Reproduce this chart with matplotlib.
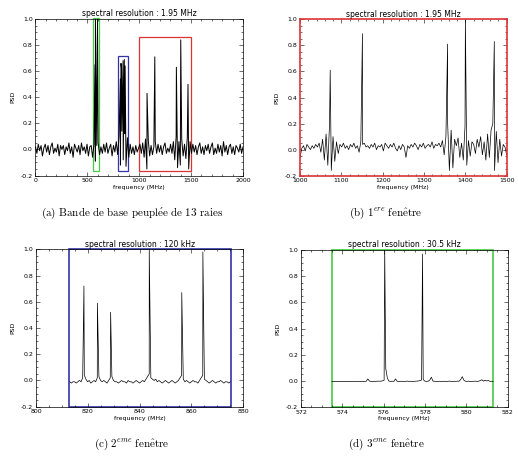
import numpy as np
import matplotlib
matplotlib.use("Agg")
import matplotlib.pyplot as plt
from matplotlib.patches import Rectangle
from matplotlib.ticker import MultipleLocator

plt.rcParams['mathtext.fontset'] = 'cm'

# (a) bande de base, 0-2000 MHz : bruit (centièmes) + raies
bruit_a = [2, -3, 4, -1, 3, -5, 1, 4, -2, 3,
           -4, 2, 5, -3, 1, -2, 4, -5, 3, 0,
           3, -4, 2, -1, 5, -3, 2, -6, 4, 1,
           -2, 3, -4, 5, -1, 2, -3, 4, -5, 2,
           3, -6, 4, -9, 3, 5, -4, 2, -3, 4,
           -2, 5, -3, 1, 4, -5, 3, -2, 6, -4,
           10, -12, 14, -8, 12, -13, 9, -6, 4, -3,
           2, -4, 3, -2, 1, 4, -3, 5, -6, 8,
           -15, 7, -5, 3, -4, 2, 6, -3, 4, -2,
           3, -4, 2, 5, -3, 1, -2, 4, -3, 6,
           -8, 10, -14, 6, -12, 8, -5, 4, -7, 9,
           -15, 6, -3, 4, -2, 3, -4, 2, 5, -3,
           2, -4, 3, -1, 4, -3, 2, 5, -4, 1,
           -3, 4, -2, 3, -5, 6, -2, 3, -4, 2,
           4, -3, 2, -4, 3, 1, -2, 4, -3, 2]
raies_a_f = [574, 578, 598, 818, 824, 829, 844, 856, 864, 1075, 1150, 1358, 1400, 1470]
raies_a_h = [0.65, 1.0, 1.0, 0.54, 0.66, 0.62, 0.68, 0.69, 0.64, 0.43, 0.71, 0.63, 0.84, 0.50]

# (b) 1ere fenetre, 1000-1500 MHz
bruit_b = [-6, 1, 3, -1, 4, 2, 0, 3, 1, 4,
           2, 5, -2, 8, -8, 12, -12, 20, -16, 10,
           -9, 6, -3, 4, 2, 5, 1, 3, 0, 4,
           2, 5, 1, 3, -2, 6, 4, 5, 2, 3,
           1, 4, 2, 5, 0, 3, 2, 4, -1, 5,
           3, 1, 4, 2, 5, 1, -1, 3, 0, 4,
           2, -6, 3, 1, 4, 2, 5, 3, 0, 4,
           2, 5, 1, 3, 4, 2, 6, 1, 4, 3,
           5, 2, 7, -4, 10, 20, -16, 15, -14, 8,
           3, 9, -6, 5, -8, 18, -12, 7, -5, 6,
           4, -3, 8, 2, 10, -4, 6, -8, 12, -6,
           15, 20, -16, 14, -10, 8, -5, 4, 2, -4]
raies_b_f = [1073, 1151, 1357, 1400, 1470]
raies_b_h = [0.61, 0.89, 0.81, 1.0, 0.83]

# (c) 2eme fenetre, 813-875 MHz
bruit_c = [-1, -2, -1, -1, -2, -1, 0, -1, 2, 4,
           1, -1, 0, -2, -1, 0, -1, 2, 3, 0,
           -1, 0, -1, -2, 0, 2, 3, 0, -1, -1,
           -2, -1, 0, -1, -1, -2, 0, -1, -1, -2,
           -1, 0, -1, -2, -1, 0, -1, 1, 3, 5,
           2, 1, 0, 1, -1, 0, -1, -2, -1, 0,
           -1, -2, -1, 0, -1, -2, -1, 0, 2, 4,
           1, -1, 0, -1, -2, -1, 0, -1, -1, -2,
           0, 2, 4, 1, 0, -1, -2, -1, 0, -1,
           -2, -1, -1, 0, -1, -2, -1, -1, -2, -1]
raies_c_f = [818.5, 823.7, 828.8, 843.7, 856.25, 864.4]
raies_c_h = [0.72, 0.59, 0.52, 1.0, 0.67, 0.98]

# (d) 3eme fenetre, 573.5-581.3 MHz (millièmes)
bruit_d = [-6, -5, -6, -4, -5, -6, -5, -4, -5, -6,
           -5, -4, -5, -3, -5, -4, -6, -5, -4, -5,
           -4, -3, 15, -2, -4, -5, -3, -4, -2, -3,
           -2, 0, 5, 95, 20, -2, -4, -3, -4, 15,
           -3, -5, -4, -3, -5, -4, -2, -4, -3, -5,
           -4, -3, -2, -1, 2, 6, 10, -2, -4, -3,
           5, 28, -2, -3, -5, -4, -3, -5, -4, -3,
           -5, -4, -2, -4, -5, -3, -4, -2, -3, 10,
           32, 5, -3, -4, -2, -5, -4, -3, -2, -4,
           -3, 2, 8, -2, 5, -1, 3, -4, -3, -6]
raies_d_f = [576.05, 577.88]
raies_d_h = [1.0, 0.97]

fig = plt.figure(figsize=(5.18, 4.62), dpi=100)

rouge = '#dd3333'
bleu = '#3333aa'
vert = '#44cc44'


def spectre(ax, f0, f1, bruit, echelle, rf, rh, lw=0.5):
    f = np.linspace(f0, f1, len(bruit))
    y = np.array(bruit) / echelle
    f = np.concatenate([f, rf])
    y = np.concatenate([y, rh])
    o = np.argsort(f)
    ax.plot(f[o], y[o], color='black', lw=lw)


def habillage(ax, xlim, xmaj, xmin, titre, cadre=None):
    ax.set_xlim(*xlim)
    ax.set_ylim(-0.2, 1.0)
    ax.xaxis.set_major_locator(MultipleLocator(xmaj))
    ax.xaxis.set_minor_locator(MultipleLocator(xmin))
    ax.yaxis.set_major_locator(MultipleLocator(0.2))
    ax.yaxis.set_minor_locator(MultipleLocator(0.05))
    ax.tick_params(which='both', direction='in', top=True, right=True,
                   labelsize=4.5, width=0.4, pad=2)
    ax.tick_params(which='major', length=3)
    ax.tick_params(which='minor', length=1.5)
    ax.yaxis.set_major_formatter(matplotlib.ticker.FormatStrFormatter('%.1f'))
    ax.set_title(titre, fontsize=5.5, pad=2)
    ax.set_xlabel('frequency (MHz)', fontsize=4.5, labelpad=1)
    ax.set_ylabel('PSD', fontsize=4.5, labelpad=4)
    for s in ax.spines.values():
        s.set_linewidth(0.5)
        if cadre:
            s.set_color(cadre)
            s.set_linewidth(1.2)


legende = dict(fontsize=8, ha='center')

# (a)
ax = fig.add_axes([0.0685, 0.6201, 0.4006, 0.3387])
spectre(ax, 0, 2000, bruit_a, 100.0, raies_a_f, raies_a_h, lw=0.7)
habillage(ax, (0, 2000), 500, 100, 'spectral resolution : 1.95 MHz')
ax.add_patch(Rectangle((551, -0.165), 58, 1.175, fill=False, ec=vert, lw=0.9, clip_on=False))
ax.add_patch(Rectangle((795, -0.165), 94, 0.885, fill=False, ec=bleu, lw=0.9))
ax.add_patch(Rectangle((998, -0.165), 504, 1.025, fill=False, ec=rouge, lw=0.9))
fig.text(0.255, 0.532, r'$\mathrm{(a)\ Bande\ de\ base\ peupl\acute{e}e\ de\ 13\ raies}$', **legende)

# (b)
ax = fig.add_axes([0.5792, 0.6197, 0.399, 0.3385])
spectre(ax, 1000, 1500, bruit_b, 100.0, raies_b_f, raies_b_h)
habillage(ax, (1000, 1500), 100, 20, 'spectral resolution : 1.95 MHz', cadre=rouge)
fig.text(0.745, 0.532, r'$\mathrm{(b)\ 1}^{ere}\ \mathrm{fen\hat{e}tre}$', **legende)

# (c)
ax = fig.add_axes([0.0695, 0.1197, 0.4002, 0.3407])
spectre(ax, 813, 875, bruit_c, 100.0, raies_c_f, raies_c_h)
habillage(ax, (800, 880), 20, 5, 'spectral resolution : 120 kHz')
ax.add_patch(Rectangle((812.7, -0.2), 62.5, 1.2, fill=False, ec=bleu, lw=1.2, clip_on=False))
fig.text(0.255, 0.032, r'$\mathrm{(c)\ 2}^{eme}\ \mathrm{fen\hat{e}tre}$', **legende)

# (d)
ax = fig.add_axes([0.5811, 0.119, 0.399, 0.3398])
spectre(ax, 573.5, 581.3, bruit_d, 1000.0, raies_d_f, raies_d_h)
habillage(ax, (572, 582), 2, 0.5, 'spectral resolution : 30.5 kHz')
ax.add_patch(Rectangle((573.5, -0.2), 7.8, 1.2, fill=False, ec=vert, lw=1.2, clip_on=False))
fig.text(0.745, 0.032, r'$\mathrm{(d)\ 3}^{eme}\ \mathrm{fen\hat{e}tre}$', **legende)

fig.savefig('out.png', dpi=100)
